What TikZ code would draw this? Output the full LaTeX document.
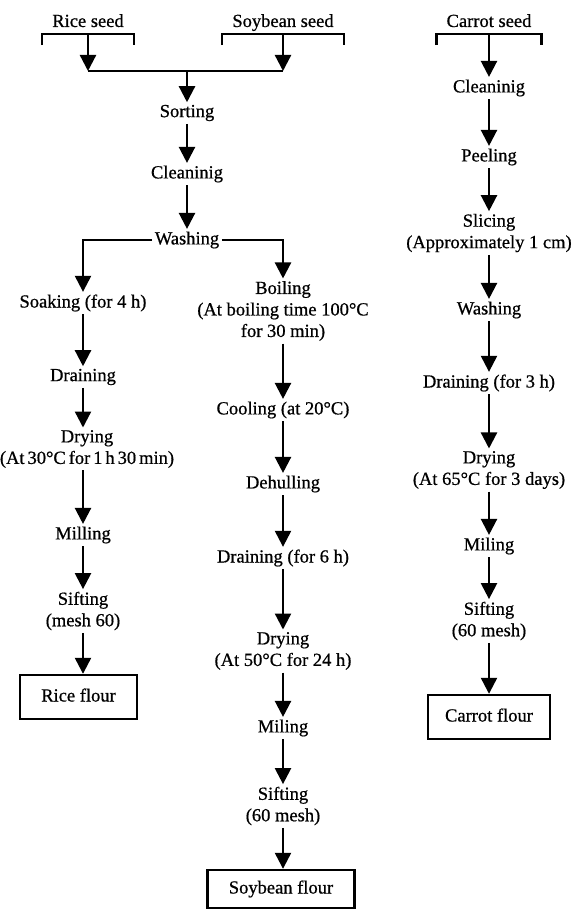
\documentclass[tikz,border=0pt]{standalone}
\usepackage{fontspec}
\setmainfont{Liberation Serif}[FakeBold=0.7]
\usetikzlibrary{arrows.meta}

\begin{document}
\begin{tikzpicture}[x=1pt,y=-1pt,line width=2.3pt,
  >={Triangle[width=16pt,length=16pt]},
  every node/.style={font=\fontsize{18.5}{21.5}\selectfont,inner sep=1.5pt,align=center},
  seed/.style={inner xsep=9pt,inner ysep=2pt,text height=13pt,text depth=4pt},
  flour/.style={draw,line width=2.4pt,minimum height=44pt,text height=13pt,text depth=4pt}]
\useasboundingbox (0,0) rectangle (578,909);
% raw materials
\node[seed] (rice) at (88,22.5) {Rice seed};
\node[seed] (soy) at (283,22.5) {Soybean seed};
\node[seed] (carrot) at (489,22.5) {Carrot seed};
\foreach \n in {rice,soy,carrot}
  \draw ([yshift=-11pt]\n.south west) -- (\n.south west) -- (\n.south east) -- ([yshift=-11pt]\n.south east);

% rice and soybean
\node (sort) at (187,113) {Sorting};
\node (clean) at (187,174) {Cleaninig};
\node (wash) at (187,240) {Washing};
\coordinate (merge) at (187,71);
\draw[->] (rice.south) -- (rice.south |- merge);
\draw[->] (soy.south) -- (soy.south |- merge);
\draw (rice.south |- merge) -- (soy.south |- merge);
\draw[->] (merge) -- (sort);
\draw[->] (sort) -- (clean);
\draw[->] (clean) -- (wash);

% rice flour
\node (soak) at (83,303) {Soaking (for 4 h)};
\node (drainR) at (83,377) {Draining};
\node (dryR) at (87,449) {Drying\\\spaceskip=.16em\relax(At 30°C for 1 h 30 min)};
\node (millR) at (83,535) {Milling};
\node (siftR) at (83,611) {Sifting\\(mesh 60)};
\node[flour,minimum width=117pt] (riceF) at (78.5,697) {Rice flour};
\draw[->] (wash.west) -| (soak.north);
\draw[->] (soak) -- (drainR);
\draw[->] (drainR) -- (drainR |- dryR.north);
\draw[->] (dryR.south -| millR) -- (millR);
\draw[->] (millR) -- (siftR);
\draw[->] (siftR) -- (siftR |- riceF.north);

% soybean flour
\node (boil) at (283,311) {Boiling\\(At boiling time 100°C\\for 30 min)};
\node (cool) at (283,410) {Cooling (at 20°C)};
\node (dehull) at (283,484) {Dehulling};
\node (drainS) at (283,558) {Draining (for 6 h)};
\node (dryS) at (283,651) {Drying\\(At 50°C for 24 h)};
\node (millS) at (283,728) {Miling};
\node (siftS) at (283,806) {Sifting\\(60 mesh)};
\node[flour,minimum width=147pt,minimum height=38pt] (soyF) at (281,889) {Soybean flour};
\draw[->] (wash.east) -| (boil.north);
\draw[->] (boil) -- (cool);
\draw[->] (cool) -- (dehull);
\draw[->] (dehull) -- (drainS);
\draw[->] (drainS) -- (dryS);
\draw[->] (dryS) -- (millS);
\draw[->] (millS) -- (siftS);
\draw[->] (siftS) -- (siftS |- soyF.north);

% carrot flour
\node (cclean) at (489,88) {Cleaninig};
\node (peel) at (489,157) {Peeling};
\node (slice) at (489,233) {Slicing\\(Approximately 1 cm)};
\node (cwash) at (489,310) {Washing};
\node (cdrain) at (489,383) {Draining (for 3 h)};
\node (cdry) at (489,470) {Drying\\(At 65°C for 3 days)};
\node (cmill) at (489,546) {Miling};
\node (csift) at (489,621) {Sifting\\(60 mesh)};
\node[flour,minimum width=122pt] (carrotF) at (489,717) {Carrot flour};
\draw[->] (carrot.south) -- (cclean);
\draw[->] (cclean) -- (peel);
\draw[->] (peel) -- (slice);
\draw[->] (slice) -- (cwash);
\draw[->] (cwash) -- (cdrain);
\draw[->] (cdrain) -- (cdry);
\draw[->] (cdry) -- (cmill);
\draw[->] (cmill) -- (csift);
\draw[->] (csift) -- (carrotF);
\end{tikzpicture}
\end{document}
